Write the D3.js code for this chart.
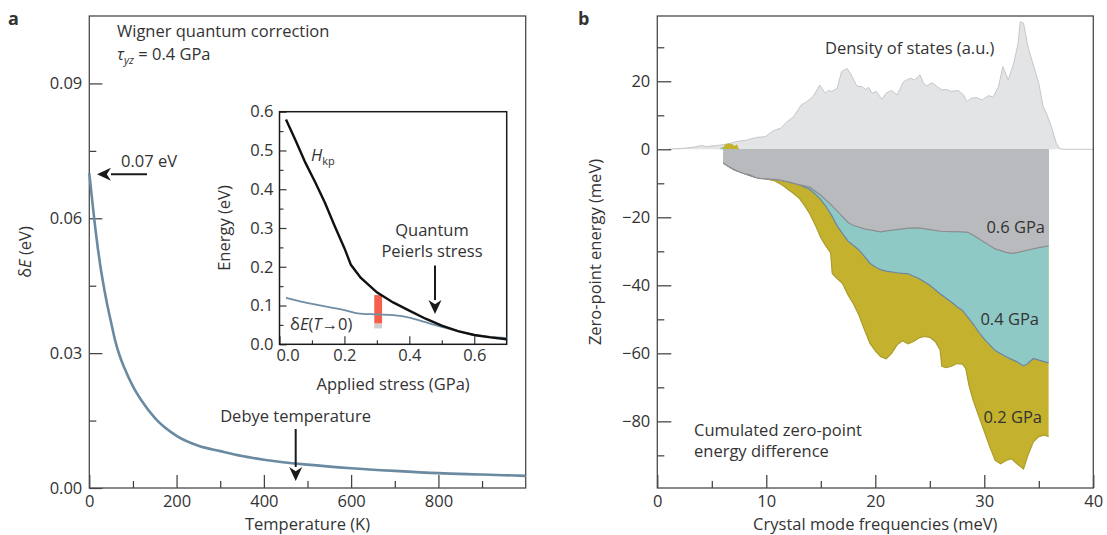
<!DOCTYPE html>
<html>
<head>
<meta charset="utf-8">
<script src="https://cdn.jsdelivr.net/npm/d3@7"></script>
<style>
  body { margin: 0; background: #fff; }
  svg text { font-family: "Open Sans", "Noto Sans", sans-serif; fill: #333; }
</style>
</head>
<body>
<svg id="chart" width="1107" height="535"></svg>
<script>
// ---- panel a: Wigner quantum correction vs temperature ----
const tempK = [0, 5, 10, 15, 20, 25, 30, 40, 50, 60, 70, 80, 100, 120, 150, 200, 250, 300, 350, 400, 500, 600, 700, 800, 900, 1000];
const deltaE = [0.0700, 0.0655, 0.0610, 0.0568, 0.0530, 0.0496, 0.0466, 0.0413, 0.0368, 0.0325, 0.0293, 0.0268, 0.0226, 0.0194, 0.0156, 0.0116, 0.0094, 0.0082, 0.0071, 0.0063, 0.0052, 0.0044, 0.0038, 0.0033, 0.0030, 0.0027];

// inset: energy vs applied stress
const stressHkp = [0.02, 0.05, 0.08, 0.11, 0.14, 0.17, 0.20, 0.22, 0.25, 0.30, 0.35, 0.40, 0.45, 0.50, 0.55, 0.60, 0.65, 0.70];
const hkpEnergy = [0.580, 0.525, 0.468, 0.418, 0.365, 0.305, 0.248, 0.205, 0.172, 0.134, 0.108, 0.087, 0.066, 0.048, 0.034, 0.024, 0.018, 0.013];
const stressDE = [0.02, 0.10, 0.20, 0.24, 0.30, 0.35, 0.40, 0.45, 0.50, 0.55, 0.60, 0.65, 0.70];
const deltaET0 = [0.120, 0.104, 0.088, 0.080, 0.077, 0.075, 0.069, 0.057, 0.045, 0.034, 0.024, 0.019, 0.016];
const barStress = [0.292, 0.316];
const barRed = [0.054, 0.127];
const barGray = [0.041, 0.054];

// ---- panel b: density of states and cumulated zero-point energy ----
const dosFreq = [1.0, 1.3, 2.4, 3.3, 4.1, 4.5, 5.4, 6.4, 7.3, 8.2, 9.1, 9.9, 10.6, 11.3, 11.9, 12.5, 13.2, 13.7, 14.3, 14.9, 15.4, 15.7, 16.0, 16.5, 16.9, 17.4, 17.8, 18.3, 18.8, 19.1, 19.4, 19.7, 20.1, 20.6, 21.0, 21.5, 22.0, 22.6, 23.2, 23.6, 24.1, 24.4, 24.7, 25.2, 25.6, 26.1, 26.5, 27.0, 27.6, 28.1, 28.4, 28.8, 29.3, 29.8, 30.4, 30.8, 31.3, 31.7, 32.2, 32.7, 33.1, 33.3, 33.6, 34.0, 34.5, 35.0, 35.4, 35.7, 36.2, 36.6, 36.9, 37.2, 40];
const dosValue = [0, 0.1, 0.3, 0.6, 1.1, 0.8, 1.1, 1.5, 2.3, 2.7, 3.5, 3.7, 5.4, 6.2, 8.1, 9.6, 13, 14, 15.5, 18.9, 16.5, 17.3, 17, 17.9, 22.8, 23.8, 21.9, 18.6, 18.4, 17.6, 18.2, 16.5, 17, 14.7, 16.5, 17.3, 16, 19.9, 20.9, 20.4, 21.9, 19.6, 18.6, 19.6, 18.6, 17.5, 17.6, 17, 17.3, 16, 14, 15, 15.2, 14.5, 15.8, 15.3, 18.4, 24.3, 20.4, 25.3, 31.2, 37.5, 37.1, 30.2, 24.8, 19.4, 12.5, 10.6, 6.2, 1.8, 0.3, 0, 0];

const freq06 = [6.06, 6.5, 7, 7.5, 8, 8.5, 9, 9.5, 10, 11, 12, 13, 14, 15, 16, 17, 17.5, 18, 19, 20, 20.5, 21, 22, 23, 24, 25, 26, 27, 28, 28.5, 29, 30, 31, 32, 32.5, 33, 34, 35, 35.9];
const zpe06 = [-4.0, -5.0, -5.9, -6.6, -7.2, -7.5, -8.3, -8.6, -8.7, -8.9, -9.6, -10.4, -11.2, -13.5, -16.5, -19.8, -21.5, -22.4, -23.4, -24.0, -24.3, -24.0, -23.6, -23.2, -23.1, -23.6, -24.1, -24.2, -24.3, -24.4, -25.3, -27.3, -29.3, -30.3, -30.6, -30.4, -29.6, -28.9, -28.4];

const freq04 = [6.06, 7, 8, 9, 10, 11, 12, 13, 14, 14.5, 15, 15.5, 16, 16.5, 17, 17.5, 18, 18.5, 19, 19.5, 20, 20.5, 21, 22, 22.5, 23, 24, 25, 26, 27, 27.5, 28, 29, 29.5, 30, 31, 32, 33, 33.6, 34, 34.5, 35, 35.9];
const zpe04 = [-4.0, -5.9, -7.2, -8.3, -8.7, -8.9, -9.6, -10.4, -11.8, -13.2, -14.8, -16.9, -19.5, -22.5, -24.8, -27.0, -28.3, -29.6, -31.5, -33.5, -34.6, -35.4, -35.8, -36.3, -36.5, -36.6, -38.0, -40.0, -42.6, -45.0, -46.3, -47.4, -51.5, -53.8, -55.8, -59.2, -61.0, -62.5, -63.7, -63.0, -61.5, -62.0, -62.8];

const freq02 = [6.06, 7, 8, 9, 10, 10.8, 11.5, 12, 12.5, 13, 13.5, 14, 14.5, 15, 15.5, 15.9, 16.05, 16.5, 17, 17.5, 18, 18.5, 19, 19.5, 20, 20.5, 21, 21.5, 22, 22.5, 23, 23.5, 24, 24.5, 25, 25.5, 25.95, 26.1, 26.5, 27, 27.5, 28, 28.3, 28.6, 29, 29.5, 30, 30.5, 31, 31.5, 32, 32.5, 33, 33.6, 34, 34.5, 35, 35.5, 35.9];
const zpe02 = [-4.0, -5.9, -7.2, -8.3, -8.7, -9.3, -10.6, -11.8, -13.0, -14.3, -16.5, -19.0, -22.3, -26.0, -28.6, -30.4, -36.5, -38.0, -39.5, -42.8, -45.5, -48.8, -53.0, -57.0, -59.3, -61.0, -61.6, -60.0, -57.5, -56.3, -57.2, -56.5, -55.5, -55.0, -55.3, -56.5, -59.0, -63.8, -64.2, -63.8, -63.0, -63.2, -64.5, -69.5, -74.0, -78.5, -83.0, -87.5, -91.5, -92.5, -91.5, -91.0, -92.5, -94.0, -90.0, -86.0, -84.5, -84.0, -84.5];

// tiny positive bits just above zero near 6 meV
const bumpFreq02 = [5.95, 6.1, 6.3, 6.6, 6.9, 7.1, 7.3, 7.5];
const bumpZpe02 = [0, 0.8, 1.6, 1.7, 1.5, 1.0, 1.5, 0];
const bumpFreq04 = [5.7, 5.9, 6.06];
const bumpZpe04 = [0, 0.7, 0.6];

const svg = d3.select('#chart');
const axisColor = '#3a3a3a';
const fs = 16.5;

// inward ticks: major + minor, labels only on major
function drawAxis(g, axisFn, scale, major, minor, fmt, majorLen, minorLen, pad) {
  g.append('g')
    .call(axisFn(scale).tickValues(minor).tickSizeInner(-minorLen).tickSizeOuter(0).tickFormat(''))
    .call(s => s.select('.domain').remove());
  g.append('g')
    .call(axisFn(scale).tickValues(major).tickSizeInner(-majorLen).tickSizeOuter(0).tickPadding(pad).tickFormat(fmt))
    .call(s => s.select('.domain').remove());
  g.selectAll('line').attr('stroke', axisColor).attr('stroke-width', 1.2);
  g.selectAll('text').attr('font-size', fs).attr('fill', '#333')
    .style('font-family', '"Open Sans", sans-serif');
}

function frame(x0, x1, y0, y1, color, w) {
  svg.append('rect').attr('x', x0).attr('y', y0)
    .attr('width', x1 - x0).attr('height', y1 - y0)
    .attr('fill', 'none').attr('stroke', color).attr('stroke-width', w);
}

function arrow(x1, y1, x2, y2) {
  const ang = Math.atan2(y2 - y1, x2 - x1);
  const L = 14, W = 6.5;
  const bx = x2 - L * Math.cos(ang), by = y2 - L * Math.sin(ang);
  svg.append('line').attr('x1', x1).attr('y1', y1).attr('x2', bx).attr('y2', by)
    .attr('stroke', '#1a1a1a').attr('stroke-width', 2);
  const px = -Math.sin(ang) * W, py = Math.cos(ang) * W;
  svg.append('path')
    .attr('d', `M${x2},${y2}L${bx + px},${by + py}L${bx + L * 0.3 * Math.cos(ang)},${by + L * 0.3 * Math.sin(ang)}L${bx - px},${by - py}Z`)
    .attr('fill', '#1a1a1a');
}

function label(x, y, txt, anchor) {
  return svg.append('text').attr('x', x).attr('y', y).attr('font-size', fs)
    .attr('text-anchor', anchor || 'start').text(txt);
}

// ================= panel a =================
const xA = d3.scaleLinear().domain([0, 1000]).range([89.3, 525.7]);
const yA = d3.scaleLinear().domain([0, 0.105]).range([488, 16]);

const gAy = svg.append('g').attr('transform', `translate(${xA(0)},0)`);
drawAxis(gAy, d3.axisLeft, yA, [0, 0.03, 0.06, 0.09], [0.015, 0.045, 0.075], d3.format('.2f'), 13, 7, 7);
const gAx = svg.append('g').attr('transform', `translate(0,${yA(0)})`);
drawAxis(gAx, d3.axisBottom, xA, [0, 200, 400, 600, 800], [100, 300, 500, 700, 900], d3.format('d'), 13, 7, 7);
frame(xA(0), xA(1000), yA(0.105), yA(0), '#4a4a4a', 1.3);

svg.append('path')
  .datum(d3.zip(tempK, deltaE))
  .attr('fill', 'none').attr('stroke', '#6a8aa2').attr('stroke-width', 2.6)
  .attr('d', d3.line().x(d => xA(d[0])).y(d => yA(d[1])).curve(d3.curveMonotoneX));

svg.append('text').attr('x', 8).attr('y', 25).attr('font-size', 18).attr('font-weight', 'bold').attr('fill', '#111').text('a');
label(117, 37, 'Wigner quantum correction');
const tau = svg.append('text').attr('x', 117).attr('y', 60).attr('font-size', fs);
tau.append('tspan').attr('font-style', 'italic').text('τ');
tau.append('tspan').attr('font-style', 'italic').attr('font-size', 11).attr('dy', 4).text('yz');
tau.append('tspan').attr('dy', -4).text(' = 0.4 GPa');

label(121, 167, '0.07 eV');
arrow(147, 174.3, 97, 174.3);

label(371, 422, 'Debye temperature', 'end');
arrow(295.7, 429, 295.7, 481);

const yLabA = svg.append('text').attr('transform', 'translate(31,252) rotate(-90)')
  .attr('text-anchor', 'middle').attr('font-size', fs);
yLabA.append('tspan').text('δ');
yLabA.append('tspan').attr('font-style', 'italic').text('E');
yLabA.append('tspan').text(' (eV)');
label((xA(0) + xA(1000)) / 2, 530, 'Temperature (K)', 'middle');

// ---- inset ----
const xI = d3.scaleLinear().domain([0, 0.7]).range([279.5, 506.7]);
const yI = d3.scaleLinear().domain([0, 0.6]).range([344.3, 111.7]);

const gIy = svg.append('g').attr('transform', `translate(${xI(0)},0)`);
drawAxis(gIy, d3.axisLeft, yI, [0, 0.1, 0.2, 0.3, 0.4, 0.5, 0.6], [0.05, 0.15, 0.25, 0.35, 0.45, 0.55], d3.format('.1f'), 7, 4, 6);
const gIx = svg.append('g').attr('transform', `translate(0,${yI(0)})`);
drawAxis(gIx, d3.axisBottom, xI, [0, 0.2, 0.4, 0.6], [0.1, 0.3, 0.5], d3.format('.1f'), 8, 4, 5);
// the corner "0.0" sits a little right of its tick, clear of the y label
gIx.selectAll('.tick text').filter(d => d === 0).attr('dx', 8);
frame(xI(0), xI(0.7), yI(0.6), yI(0), '#1a1a1a', 1.5);

svg.append('rect').attr('x', xI(barStress[0])).attr('width', xI(barStress[1]) - xI(barStress[0]))
  .attr('y', yI(barGray[1])).attr('height', yI(barGray[0]) - yI(barGray[1])).attr('fill', '#cfcfcf');
svg.append('rect').attr('x', xI(barStress[0])).attr('width', xI(barStress[1]) - xI(barStress[0]))
  .attr('y', yI(barRed[1])).attr('height', yI(barRed[0]) - yI(barRed[1])).attr('fill', '#f4604b');

svg.append('path')
  .datum(d3.zip(stressDE, deltaET0))
  .attr('fill', 'none').attr('stroke', '#6f8ea5').attr('stroke-width', 1.8)
  .attr('d', d3.line().x(d => xI(d[0])).y(d => yI(d[1])).curve(d3.curveMonotoneX));
svg.append('path')
  .datum(d3.zip(stressHkp, hkpEnergy))
  .attr('fill', 'none').attr('stroke', '#111').attr('stroke-width', 2.4)
  .attr('d', d3.line().x(d => xI(d[0])).y(d => yI(d[1])));

const hkp = svg.append('text').attr('x', 311).attr('y', 161).attr('font-size', fs);
hkp.append('tspan').attr('font-style', 'italic').text('H');
hkp.append('tspan').attr('font-size', 11).attr('dy', 4).text('kp');
const det = svg.append('text').attr('x', 290).attr('y', 330).attr('font-size', fs);
det.append('tspan').text('δ');
det.append('tspan').attr('font-style', 'italic').text('E');
det.append('tspan').text('(');
det.append('tspan').attr('font-style', 'italic').text('T');
det.append('tspan').text('→0)');

label(432, 236, 'Quantum', 'middle');
label(432, 257, 'Peierls stress', 'middle');
arrow(435, 265.5, 435, 314);

svg.append('text').attr('transform', `translate(230,${(yI(0) + yI(0.6)) / 2}) rotate(-90)`)
  .attr('text-anchor', 'middle').attr('font-size', fs).text('Energy (eV)');
label((xI(0) + xI(0.7)) / 2, 390, 'Applied stress (GPa)', 'middle');

// ================= panel b =================
const xB = d3.scaleLinear().domain([0, 40]).range([657.3, 1093.3]);
const yB = d3.scaleLinear().domain([-99.6, 39.2]).range([488, 16]);

const area = d3.area().x(d => xB(d[0])).y0(yB(0)).y1(d => yB(d[1]));
const line = d3.line().x(d => xB(d[0])).y(d => yB(d[1]));

// density of states
svg.append('path').datum(d3.zip(dosFreq, dosValue))
  .attr('fill', '#e3e4e6').attr('d', area);
svg.append('path').datum(d3.zip(dosFreq, dosValue))
  .attr('fill', 'none').attr('stroke', '#c6c7ca').attr('stroke-width', 1).attr('d', line);

const series = [
  {x: freq02, y: zpe02, fill: '#c4b22e', edge: '#ab9d2a'},
  {x: freq04, y: zpe04, fill: '#8ec9c6', edge: '#6a86a4'},
  {x: freq06, y: zpe06, fill: '#b9babd', edge: '#8c8d91'},
];
svg.append('path').datum(d3.zip(bumpFreq04, bumpZpe04)).attr('fill', '#8ec9c6').attr('d', area);
svg.append('path').datum(d3.zip(bumpFreq02, bumpZpe02)).attr('fill', '#c4b22e').attr('d', area);
series.forEach(s => {
  const pts = d3.zip(s.x, s.y);
  svg.append('path').datum(pts).attr('fill', s.fill).attr('d', area);
  svg.append('path').datum(pts).attr('fill', 'none').attr('stroke', s.edge).attr('stroke-width', 1.2).attr('d', line);
});

const gBy = svg.append('g').attr('transform', `translate(${xB(0)},0)`);
drawAxis(gBy, d3.axisLeft, yB, [20, 0, -20, -40, -60, -80], [30, 10, -10, -30, -50, -70, -90], d3.format('d'), 14, 7, 7);
const gBx = svg.append('g').attr('transform', `translate(0,${yB(-99.6)})`);
drawAxis(gBx, d3.axisBottom, xB, [0, 10, 20, 30, 40], [5, 15, 25, 35], d3.format('d'), 13, 7, 7);
frame(xB(0), xB(40), yB(39.2), yB(-99.6), '#4a4a4a', 1.3);

svg.append('text').attr('x', 578).attr('y', 25).attr('font-size', 18).attr('font-weight', 'bold').attr('fill', '#111').text('b');
label(825, 54, 'Density of states (a.u.)');
label(694, 436, 'Cumulated zero-point');
label(694, 457, 'energy difference');
label(1045, 233, '0.6 GPa', 'end');
label(1039, 325, '0.4 GPa', 'end');
label(1042, 423, '0.2 GPa', 'end');

svg.append('text').attr('transform', `translate(601,252) rotate(-90)`)
  .attr('text-anchor', 'middle').attr('font-size', fs).text('Zero-point energy (meV)');
label((xB(0) + xB(40)) / 2, 530, 'Crystal mode frequencies (meV)', 'middle');
</script>
</body>
</html>
